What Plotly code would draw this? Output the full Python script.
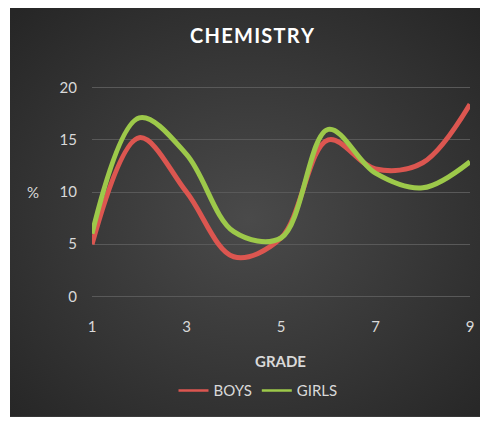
import base64
import plotly.graph_objects as go

# grade on the x axis, percentages
grades = [1, 2, 3, 4, 5, 6, 7, 8, 9]
boys = [5.0, 15.2, 10.0, 3.8, 5.6, 15.0, 12.2, 12.8, 18.4]
girls = [6.0, 17.1, 13.6, 6.2, 5.6, 16.0, 11.8, 10.4, 12.9]
x_ticks = [1, 3, 5, 7, 9]
y_ticks = [0, 5, 10, 15, 20]

FONT = "Lato, Open Sans, sans-serif"
TEXT = "#d9d9d9"
RED = "#dc5650"
GREEN = "#9dc94a"

# page body has an 8px margin, so the figure is drawn 8px smaller and
# all pixel positions below are in figure coordinates (reference - 8)
W, H = 480, 413
PAD = 0.15              # y range padding so the 0 and 20 gridlines are not clipped
L, PW = 84, 378         # plot area left / width
PH = 208 * (20 + 2 * PAD) / 20
T = 80 - PAD * 10.4     # plot area top

# radial gray background like the Excel chart area
svg = """<svg xmlns='http://www.w3.org/2000/svg' width='478' height='411'>
<defs><radialGradient id='g' cx='50%' cy='52%' r='70%'>
<stop offset='0%' stop-color='#4a4a4a'/><stop offset='100%' stop-color='#262626'/>
</radialGradient></defs><rect width='478' height='411' fill='url(#g)'/></svg>"""
bg = "data:image/svg+xml;base64," + base64.b64encode(svg.encode()).decode()


def px(x):
    return (x - L) / PW


def py(y):
    return (T + PH - y) / PH


fig = go.Figure()
fig.add_trace(go.Scatter(x=grades, y=boys, name="BOYS", mode="lines", showlegend=False,
                         line=dict(color=RED, width=5, shape="spline", smoothing=1)))
fig.add_trace(go.Scatter(x=grades, y=girls, name="GIRLS", mode="lines", showlegend=False,
                         line=dict(color=GREEN, width=5, shape="spline", smoothing=1)))
# legend entries with thinner lines, as in the reference
fig.add_trace(go.Scatter(x=[None], y=[None], name="BOYS", mode="lines",
                         line=dict(color=RED, width=2.5)))
fig.add_trace(go.Scatter(x=[None], y=[None], name="GIRLS", mode="lines",
                         line=dict(color=GREEN, width=2.5)))

title = "\u200a".join("CHEMISTRY")

fig.update_layout(
    width=W, height=H,
    margin=dict(l=L, r=W - L - PW, t=T, b=H - T - PH),
    paper_bgcolor="white", plot_bgcolor="rgba(0,0,0,0)",
    font=dict(family=FONT, color=TEXT, size=15),
    title=dict(text=f"<b>{title}</b>", x=(244 - 0) / W, xanchor="center",
               y=1 - 28 / H, yanchor="middle",
               font=dict(size=20, color="white", family=FONT)),
    showlegend=True,
    legend=dict(orientation="h", x=px(250), xanchor="center", y=py(382), yanchor="middle",
                bgcolor="rgba(0,0,0,0)", font=dict(size=15, color=TEXT),
                itemwidth=30),
    images=[dict(source=bg, xref="paper", yref="paper",
                 x=px(2), y=py(-3),
                 sizex=478 / PW, sizey=411 / PH,
                 sizing="stretch", layer="below", xanchor="left", yanchor="top")],
    annotations=[
        dict(text="%", xref="paper", yref="paper", x=px(25), y=py(184),
             showarrow=False, xanchor="center", yanchor="middle",
             font=dict(size=15, color=TEXT)),
        dict(text="<b>GRADE</b>", xref="paper", yref="paper", x=px(272),
             y=py(352), showarrow=False, xanchor="center", yanchor="middle",
             font=dict(size=15, color=TEXT)),
    ],
)
fig.update_xaxes(range=[1, 9], tickvals=x_ticks, showgrid=False, zeroline=False,
                 showline=False, ticklabelstandoff=18)
fig.update_yaxes(range=[-PAD, 20 + PAD], tickvals=y_ticks, showgrid=True,
                 gridcolor="#595959", gridwidth=1, zeroline=False, showline=False,
                 ticklabelstandoff=14)

fig.write_html("out.html")
